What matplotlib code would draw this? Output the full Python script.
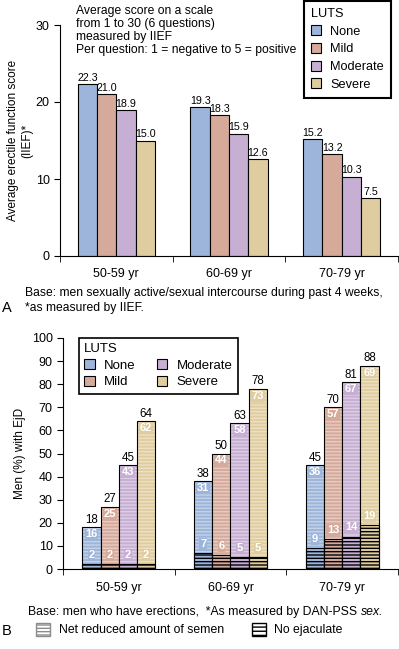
"""
Erectile function (IIEF) and ejaculatory dysfunction by age group and LUTS severity
"""
import matplotlib.pyplot as plt
import numpy as np
from matplotlib.patches import Patch

plt.rcParams['font.family'] = ['Liberation Sans', 'DejaVu Sans']
plt.rcParams['hatch.linewidth'] = 1.0

# Data
age_groups = ['50-59 yr', '60-69 yr', '70-79 yr']
luts_levels = ['None', 'Mild', 'Moderate', 'Severe']
luts_colors = ['#9db5da', '#d6aa9b', '#c7afd4', '#e0cd9f']

# Panel A: average IIEF score
iief_none = [22.3, 19.3, 15.2]
iief_mild = [21.0, 18.3, 13.2]
iief_moderate = [18.9, 15.9, 10.3]
iief_severe = [15.0, 12.6, 7.5]

# Panel B: % men with EjD, split into reduced semen / no ejaculate
reduced_none = [16, 31, 36]
reduced_mild = [25, 44, 57]
reduced_moderate = [43, 58, 67]
reduced_severe = [62, 73, 69]

noejac_none = [2, 7, 9]
noejac_mild = [2, 6, 13]
noejac_moderate = [2, 5, 14]
noejac_severe = [2, 5, 19]

iief = [iief_none, iief_mild, iief_moderate, iief_severe]
reduced = [reduced_none, reduced_mild, reduced_moderate, reduced_severe]
noejac = [noejac_none, noejac_mild, noejac_moderate, noejac_severe]

fig = plt.figure(figsize=(3.99, 6.49), dpi=100)
x = np.arange(len(age_groups))


def style_axis(ax):
    ax.spines['top'].set_visible(False)
    ax.spines['right'].set_visible(False)
    ax.set_xlim(-0.5, 2.5)
    ax.set_xticks(x)
    ax.set_xticklabels(age_groups, fontsize=9)
    ax.set_xticks([-0.5, 0.5, 1.5, 2.5], minor=True)
    ax.tick_params(axis='x', which='major', length=0, pad=9)
    ax.tick_params(axis='x', which='minor', length=4)
    ax.tick_params(axis='y', labelsize=9, length=4)


# ---- Panel A ----
axA = fig.add_axes([60 / 399, 1 - 256 / 649, 338 / 399, 231 / 649])
w = 0.171
for i, vals in enumerate(iief):
    pos = x + (i - 1.5) * w
    axA.bar(pos, vals, w, color=luts_colors[i], edgecolor='black',
            linewidth=0.8, label=luts_levels[i])
    for p, v in zip(pos, vals):
        axA.annotate(f'{v:.1f}', (p, v), xytext=(0, 1), textcoords='offset points',
                     ha='center', va='bottom', fontsize=7.7)

style_axis(axA)
axA.set_ylim(0, 30)
axA.set_yticks([0, 10, 20, 30])
axA.set_ylabel('Average erectile function score\n(IIEF)*', fontsize=8.5, labelpad=2)

legA = axA.legend(title='LUTS', loc='upper right', bbox_to_anchor=(0.979, 1.104),
                  fancybox=False, edgecolor='black', framealpha=1, fontsize=9.2,
                  title_fontsize=9.2, alignment='left', handlelength=0.8,
                  handleheight=0.8, labelspacing=0.42, handletextpad=0.7,
                  borderpad=0.55, borderaxespad=0)
legA.get_frame().set_linewidth(1.5)

axA.text(0.047, 1.085, 'Average score on a scale\nfrom 1 to 30 (6 questions)\n'
         'measured by IIEF\nPer question: 1 = negative to 5 = positive',
         transform=axA.transAxes, va='top', ha='left', fontsize=8.7, linespacing=1.1)

fig.text(25 / 399, 1 - 287 / 649,
         'Base: men sexually active/sexual intercourse during past 4 weeks,\n'
         '*as measured by IIEF.', fontsize=8.7, va='top', ha='left', linespacing=1.35)
fig.text(2 / 399, 1 - 308 / 649, 'A', fontsize=10.5, va='center', ha='left')

# ---- Panel B ----
axB = fig.add_axes([63 / 399, 1 - 569 / 649, 335 / 399, 231 / 649])
wb = 0.163
for i in range(4):
    pos = x + (i - 1.5) * wb
    low = np.array(noejac[i])
    up = np.array(reduced[i])
    total = low + up
    # no ejaculate: dark stripes
    axB.bar(pos, low, wb, color=luts_colors[i], edgecolor='black', hatch='-----',
            linewidth=0)
    # reduced semen: light stripes
    axB.bar(pos, up, wb, bottom=low, color=luts_colors[i],
            edgecolor=(1, 1, 1, 0.4), hatch='-----', linewidth=0)
    # outlines
    axB.bar(pos, low, wb, fill=False, edgecolor='black', linewidth=0.8)
    axB.bar(pos, total, wb, fill=False, edgecolor='black', linewidth=0.8,
            label=luts_levels[i])
    box = dict(facecolor=luts_colors[i], edgecolor='none', pad=0.6)
    for p, t, u, l in zip(pos, total, up, low):
        axB.annotate(f'{t}', (p, t), xytext=(0, 1), textcoords='offset points',
                     ha='center', va='bottom', fontsize=8.3)
        axB.text(p, t - 3, f'{u}', ha='center', va='center', fontsize=8,
                 color='white', fontweight='bold', bbox=box)
        axB.text(p, l + 4, f'{l}', ha='center', va='center', fontsize=8,
                 color='white', fontweight='bold', bbox=box)

style_axis(axB)
axB.set_ylim(0, 100)
axB.set_yticks(np.arange(0, 101, 10))
axB.set_ylabel('Men (%) with EjD', fontsize=8.5, labelpad=4)

luts_handles = [Patch(facecolor=c, edgecolor='black', linewidth=0.8, label=l)
                for c, l in zip(luts_colors, luts_levels)]
legB = axB.legend(handles=luts_handles, title='LUTS', ncol=2, loc='upper left',
                  bbox_to_anchor=(0.048, 1.0), fancybox=False, edgecolor='black',
                  framealpha=1, fontsize=9.5, title_fontsize=9.5, alignment='left',
                  handlelength=0.8, handleheight=0.8, labelspacing=0.3,
                  handletextpad=0.7, columnspacing=1.6, borderpad=0.4,
                  borderaxespad=0)
legB.get_frame().set_linewidth(1.2)

capB = fig.text(28 / 399, 1 - 612 / 649,
                'Base: men who have erections,  *As measured by DAN-PSS ',
                fontsize=8.8, va='center', ha='left')
axB.annotate('sex.', xy=(1, 0.5), xycoords=capB, va='center', ha='left',
             fontsize=8.8, style='italic')

fig.text(2 / 399, 1 - 631 / 649, 'B', fontsize=10.5, va='center', ha='left')

ejd_handles = [Patch(facecolor='white', edgecolor='#8c8c8c', hatch='-----',
                     label='Net reduced amount of semen'),
               Patch(facecolor='white', edgecolor='black', hatch='----',
                     label='No ejaculate')]
fig.legend(handles=ejd_handles, loc='center left',
           bbox_to_anchor=(36 / 399, 1 - 629.5 / 649), ncol=2, frameon=False,
           fontsize=8.8, handlelength=1.15, handleheight=1.25, handletextpad=0.7,
           columnspacing=2.3, borderpad=0, borderaxespad=0)

fig.savefig('out.png', dpi=100)
